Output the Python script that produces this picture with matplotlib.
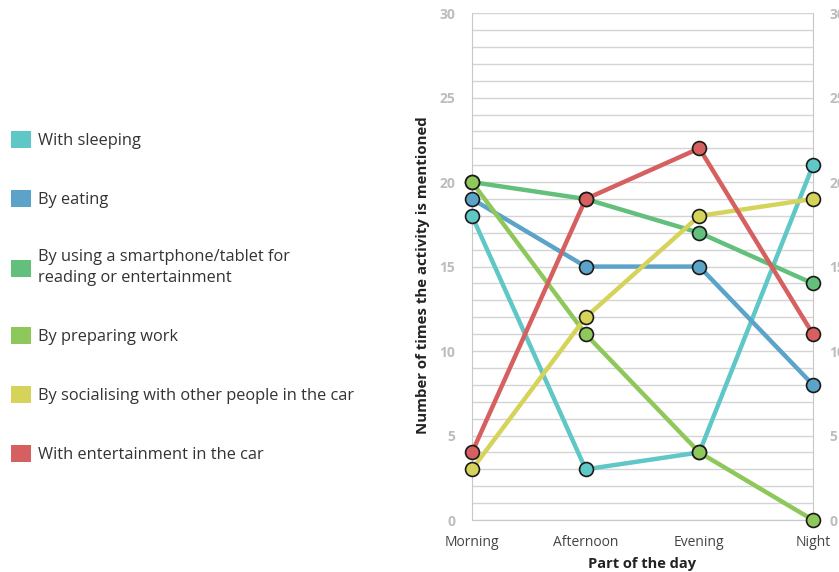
import matplotlib
matplotlib.use('Agg')
import matplotlib.pyplot as plt
from matplotlib.patches import Patch

plt.rcParams['font.family'] = ['Open Sans', 'DejaVu Sans']

parts = ['Morning', 'Afternoon', 'Evening', 'Night']
activities = [
	'With sleeping',
	'By eating',
	'By using a smartphone/tablet for\nreading or entertainment',
	'By preparing work',
	'By socialising with other people in the car',
	'With entertainment in the car',
]
sleeping = [18, 3, 4, 21]
eating = [19, 15, 15, 8]
smartphone = [20, 19, 17, 14]
preparing = [20, 11, 4, 0]
socialising = [3, 12, 18, 19]
entertainment = [4, 19, 22, 11]
colors = ['#5fc8c6', '#5ba3c9', '#62bf7c', '#8ec85a', '#d6d35a', '#d65f5f']

series = [sleeping, eating, smartphone, preparing, socialising, entertainment]

fig = plt.figure(figsize=(8.39, 5.72), dpi=100)
ax = fig.add_axes([0.5626, 0.0909, 0.4064, 0.8861])

x = range(len(parts))
for vals, c in zip(series, colors):
	ax.plot(x, vals, color=c, lw=3.2, marker='o', ms=10, mfc=c,
		mec='#1a1a1a', mew=1.2, clip_on=False, zorder=3)

ax.set_xlim(0, 3)
ax.set_ylim(0, 30)
ax.set_xticks(list(x))
ax.set_xticklabels(parts, fontsize=10, color='#444444')
ax.set_yticks(range(0, 31, 5))
ax.set_yticks(range(0, 31), minor=True)
ax.grid(True, which='both', axis='y', color='#d4d4d4', lw=1)
ax.set_axisbelow(True)
ax.tick_params(axis='both', which='both', length=0)
ax.tick_params(axis='y', labelright=True, labelsize=10, labelcolor='#bdbdbd', pad=12)
for tl in ax.get_yticklabels():
	tl.set_fontweight('bold')
ax.tick_params(axis='x', pad=11)

for side in ['left', 'right', 'bottom']:
	ax.spines[side].set_color('#c8c8c8')
ax.spines['top'].set_visible(False)

ax.set_xlabel('Part of the day', fontsize=10.5, fontweight='bold', color='#222222', labelpad=5)
ax.set_ylabel('Number of times the activity is mentioned', fontsize=10.8,
	fontweight='bold', color='#222222')
ax.yaxis.set_label_coords(-0.123, 0.484)

handles = [Patch(facecolor=c, edgecolor='none') for c in colors]
leg = fig.legend(handles, activities, loc='upper left', bbox_to_anchor=(-0.004, 0.797),
	frameon=False, fontsize=11.8, handlelength=1.22, handleheight=1.22,
	handletextpad=0.42, labelspacing=2.5, labelcolor='#333333')
for t in leg.get_texts():
	t.set_linespacing(1.45)

fig.savefig('out.png', dpi=100)
